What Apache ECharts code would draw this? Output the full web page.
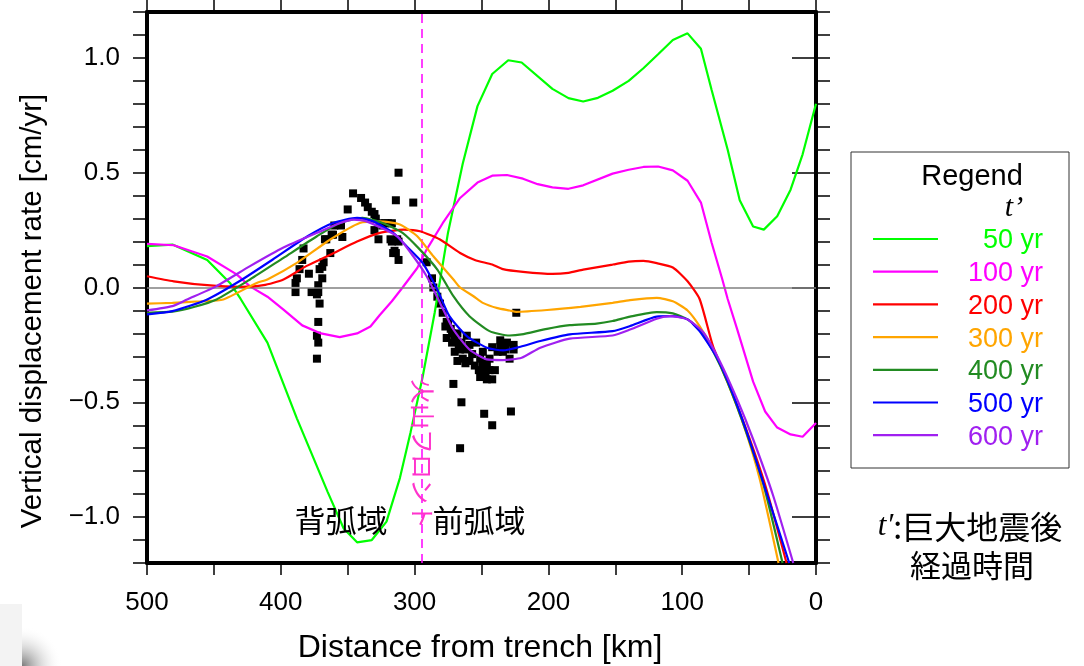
<!DOCTYPE html>
<html>
<head>
<meta charset="utf-8">
<script src="https://cdn.jsdelivr.net/npm/echarts@6/dist/echarts.min.js"></script>
<style>
  html, body { margin: 0; padding: 0; background: #fff; }
  #chart { width: 1084px; height: 666px; }
</style>
</head>
<body>
<div id="chart"></div>
<script>
// Vertical displacement rate [cm/yr] against distance from trench [km],
// one curve per elapsed time t' after the great earthquake.
const t50 = [[500,0.18],[481,0.187],[455,0.12],[438,0.02],[430,-0.05],[410,-0.24],[388,-0.57],[365,-0.89],[353,-1.05],[343,-1.11],[332,-1.10],[321,-1.02],[311,-0.83],[303,-0.63],[294,-0.39],[285,-0.11],[275,0.24],[264,0.54],[253,0.79],[242,0.93],[230,0.99],[220,0.98],[197,0.865],[185,0.825],[174,0.81],[163,0.826],[152,0.857],[140,0.90],[129,0.955],[118,1.016],[107,1.078],[96,1.107],[86,1.04],[78,0.86],[66,0.60],[57,0.38],[47,0.266],[39,0.252],[29,0.31],[19,0.426],[10,0.58],[0,0.80]];
const t100 = [[500,0.19],[480,0.184],[455,0.135],[433,0.057],[423,0.005],[410,-0.04],[398,-0.096],[384,-0.165],[370,-0.20],[356,-0.216],[343,-0.20],[333,-0.17],[326,-0.12],[317,-0.06],[309,0.0],[298,0.085],[291,0.165],[279,0.28],[266,0.39],[253,0.457],[242,0.487],[231,0.49],[219,0.474],[208,0.45],[197,0.436],[185,0.43],[174,0.445],[152,0.496],[140,0.513],[129,0.525],[118,0.527],[107,0.51],[96,0.465],[86,0.37],[78,0.195],[70,0.035],[66,-0.05],[59,-0.18],[47,-0.41],[38,-0.54],[29,-0.61],[19,-0.64],[10,-0.65],[0,-0.59]];
const t200 = [[500,0.049],[480,0.027],[455,0.01],[430,0.003],[413,0.01],[398,0.035],[381,0.093],[363,0.143],[343,0.2],[326,0.238],[308,0.252],[296,0.245],[281,0.209],[266,0.15],[255,0.12],[242,0.10],[234,0.08],[219,0.068],[197,0.059],[185,0.064],[174,0.078],[152,0.10],[140,0.113],[129,0.116],[119,0.106],[107,0.087],[96,0.027],[87,-0.05],[77,-0.255],[66,-0.41],[52,-0.62],[38,-0.86],[22,-1.2]];
const t300 = [[500,-0.07],[481,-0.067],[460,-0.06],[443,-0.052],[418,0.02],[410,0.035],[388,0.107],[363,0.209],[341,0.281],[326,0.288],[311,0.274],[298,0.223],[286,0.136],[271,0.035],[266,0.0],[256,-0.038],[249,-0.067],[238,-0.09],[229,-0.1],[224,-0.106],[201,-0.098],[176,-0.084],[152,-0.067],[139,-0.055],[119,-0.045],[107,-0.06],[96,-0.10],[87,-0.168],[77,-0.27],[67,-0.40],[54,-0.60],[42,-0.835],[28,-1.2]];
const t400 = [[500,-0.11],[481,-0.105],[465,-0.085],[448,-0.052],[423,0.035],[398,0.129],[373,0.223],[356,0.281],[339,0.303],[324,0.281],[309,0.238],[296,0.165],[283,0.078],[271,-0.038],[259,-0.125],[244,-0.19],[229,-0.209],[220,-0.204],[201,-0.18],[184,-0.164],[164,-0.157],[152,-0.146],[139,-0.127],[119,-0.107],[107,-0.113],[96,-0.139],[87,-0.183],[77,-0.277],[66,-0.414],[52,-0.632],[39,-0.864],[25,-1.2]];
const t500 = [[500,-0.117],[481,-0.103],[455,-0.052],[431,0.027],[406,0.122],[380,0.223],[361,0.281],[343,0.303],[331,0.288],[316,0.238],[306,0.18],[294,0.107],[283,-0.01],[274,-0.125],[261,-0.212],[246,-0.262],[234,-0.274],[219,-0.255],[206,-0.233],[184,-0.204],[152,-0.19],[139,-0.168],[119,-0.127],[107,-0.125],[96,-0.139],[87,-0.19],[74,-0.306],[64,-0.436],[52,-0.625],[37,-0.893],[20,-1.2]];
const t600 = [[500,-0.10],[481,-0.081],[470,-0.052],[448,0.006],[423,0.093],[398,0.174],[373,0.238],[356,0.28],[346,0.296],[336,0.288],[313,0.223],[301,0.136],[291,0.049],[281,-0.067],[271,-0.183],[259,-0.27],[246,-0.313],[234,-0.316],[220,-0.306],[206,-0.262],[184,-0.223],[152,-0.209],[139,-0.183],[119,-0.136],[109,-0.125],[96,-0.139],[84,-0.197],[72,-0.32],[59,-0.487],[47,-0.661],[32,-0.907],[17,-1.2]];

// Observed vertical rates (black squares)
const observed = [
  [312,0.50],[346,0.41],[340,0.39],[337,0.37],[335,0.35],[332,0.33],[330,0.32],[350,0.34],[314,0.38],[301,0.37],
  [329,0.30],[326,0.28],[322,0.28],[317,0.28],[320,0.28],[324,0.27],[360,0.27],[355,0.27],[362,0.23],[361,0.23],
  [354,0.22],[366,0.21],[327,0.21],[330,0.25],[317,0.20],[318,0.21],[312,0.20],[313,0.21],[367,0.21],[383,0.17],
  [363,0.15],[314,0.15],[316,0.15],[315,0.16],[312,0.12],[384,0.12],[368,0.11],[369,0.09],[386,0.08],[371,0.08],
  [379,0.06],[388,0.04],[369,0.04],[389,0.02],[372,0.01],[389,-0.02],[377,-0.02],[373,-0.03],[372,-0.02],[371,-0.07],
  [372,-0.15],[373,-0.21],[372,-0.24],[373,-0.31],
  [291,0.11],[287,0.04],[286,0.0],[283,-0.04],[281,-0.07],[279,-0.11],[276,-0.15],[275,-0.15],[277,-0.17],[273,-0.18],
  [276,-0.22],[272,-0.20],[272,-0.24],[268,-0.20],[270,-0.28],[270,-0.23],[266,-0.27],[265,-0.24],[267,-0.25],[261,-0.21],
  [268,-0.32],[264,-0.31],[262,-0.27],[262,-0.33],[259,-0.32],[259,-0.25],[257,-0.29],[254,-0.24],[255,-0.34],[252,-0.36],
  [251,-0.39],[251,-0.31],[249,-0.28],[249,-0.34],[246,-0.33],[247,-0.37],[246,-0.40],[244,-0.36],[244,-0.31],[242,-0.40],
  [242,-0.26],[240,-0.36],[238,-0.28],[236,-0.26],[236,-0.23],[234,-0.28],[232,-0.27],[231,-0.24],[229,-0.31],[226,-0.25],
  [226,-0.27],[224,-0.11],[271,-0.42],[265,-0.50],[248,-0.55],[242,-0.60],[228,-0.54],[266,-0.70]
];

const curveData = [t50, t100, t200, t300, t400, t500, t600];
const curveNames = ['50 yr', '100 yr', '200 yr', '300 yr', '400 yr', '500 yr', '600 yr'];
const curveColors = ['#00ff00', '#ff00ff', '#ff0000', '#ffa500', '#228b22', '#0000ff', '#a020f0'];
const curveSmooth = [false, false, 0.2, 0.2, 0.2, 0.2, 0.2];

const volcanicFrontKm = 295;
const yMajorTicks = [-1, -0.5, 0, 0.5, 1];

const latin = '"Liberation Sans", Arial, Helvetica, sans-serif';
const cjk = '"Noto Sans CJK JP", "Noto Sans CJK SC", sans-serif';

const chart = echarts.init(document.getElementById('chart'), null, { renderer: 'canvas' });

function yLabel(v) {
  const r = Math.round(v * 10);
  if (r % 5 !== 0) return '';
  return (r < 0 ? '\u2212' : '') + Math.abs(r / 10).toFixed(1);
}

const frame = { show: true, onZero: false, lineStyle: { color: '#000', width: 4 } };

const series = [];
series.push({
  type: 'scatter', name: 'obs', data: observed, symbol: 'rect', symbolSize: 8,
  itemStyle: { color: '#000', opacity: 1 }, z: 2, silent: true,
  markLine: {
    silent: true, symbol: 'none', animation: false,
    label: { show: false },
    data: [
      { yAxis: 0, lineStyle: { color: '#808080', width: 1.5, type: 'solid' } },
      { xAxis: volcanicFrontKm, lineStyle: { color: '#ff00ff', width: 1.5, type: [9, 6] } }
    ]
  }
});
curveData.forEach((d, i) => {
  series.push({
    type: 'line', name: curveNames[i], data: d, showSymbol: false, smooth: curveSmooth[i],
    lineStyle: { color: curveColors[i], width: 2.2 }, itemStyle: { color: curveColors[i] },
    z: 3 + i, silent: true, clip: true
  });
});

// Legend panel
const legendItems = [];
legendItems.push({ type: 'rect', shape: { x: 851, y: 152, width: 218, height: 316 },
  style: { fill: '#fff', stroke: '#333', lineWidth: 1 } });
legendItems.push({ type: 'text', x: 972, y: 177,
  style: { text: 'Regend', font: '29px ' + latin, fill: '#000', align: 'center', verticalAlign: 'middle' } });
legendItems.push({ type: 'text', x: 1014, y: 208,
  style: { text: 't\u2019', font: 'italic 30px "Liberation Serif", "DejaVu Serif", serif', fill: '#000', align: 'center', verticalAlign: 'middle' } });
curveNames.forEach((n, i) => {
  const y = 239 + i * 32.7;
  legendItems.push({ type: 'line', shape: { x1: 873, y1: y, x2: 938, y2: y },
    style: { stroke: curveColors[i], lineWidth: 2.2 } });
  legendItems.push({ type: 'text', x: 1043, y: y + 2,
    style: { text: n, font: '27px ' + latin, fill: curveColors[i], align: 'right', verticalAlign: 'middle' } });
});

const option = {
  backgroundColor: '#fff',
  animation: false,
  grid: { left: 147, right: 268, top: 12, bottom: 103, containLabel: false },
  xAxis: [
    {
      type: 'value', position: 'bottom', min: 0, max: 500, interval: 50, inverse: true,
      axisLine: frame,
      axisTick: { show: true, inside: false, length: 12, lineStyle: { color: '#000', width: 1.5 } },
      axisLabel: { show: true, margin: 27, fontSize: 26, fontFamily: latin, color: '#000',
        formatter: v => (Math.round(v) % 100 === 0 ? String(Math.round(v)) : '') },
      splitLine: { show: false }
    },
    {
      type: 'value', position: 'top', min: 0, max: 500, interval: 50, inverse: true,
      axisLine: frame,
      axisTick: { show: true, inside: false, length: 12, lineStyle: { color: '#000', width: 1.5 } },
      axisLabel: { show: false }, splitLine: { show: false }
    }
  ],
  yAxis: [
    {
      type: 'value', position: 'left', min: -1.2, max: 1.2, interval: 0.1,
      axisLine: frame,
      axisTick: { show: true, inside: false, length: 14, lineStyle: { color: '#000', width: 1.5 } },
      axisLabel: { show: true, margin: 27, fontSize: 26, fontFamily: latin, color: '#000', formatter: yLabel },
      splitLine: { show: false }
    },
    {
      type: 'value', position: 'left', min: -1.2, max: 1.2,
      axisLine: { show: false },
      axisTick: { show: true, inside: false, length: 24, customValues: yMajorTicks, lineStyle: { color: '#000', width: 1.5 } },
      axisLabel: { show: false }, splitLine: { show: false }
    },
    {
      type: 'value', position: 'right', min: -1.2, max: 1.2, interval: 0.1,
      axisLine: frame,
      axisTick: { show: true, inside: false, length: 14, lineStyle: { color: '#000', width: 1.5 } },
      axisLabel: { show: false }, splitLine: { show: false }
    }
  ],
  series: series,
  graphic: [
    { type: 'text', x: 33, y: 311, rotation: Math.PI / 2, z: 20,
      style: { text: 'Vertical displacement rate [cm/yr]', font: '29.5px ' + latin, fill: '#000', align: 'center', verticalAlign: 'middle' } },
    { type: 'text', x: 480, y: 648, z: 20,
      style: { text: 'Distance from trench [km]', font: '32px ' + latin, fill: '#000', align: 'center', verticalAlign: 'middle' } },
    { type: 'text', x: 341, y: 520, z: 20,
      style: { text: '背弧域', font: '31px ' + cjk, fill: '#000', align: 'center', verticalAlign: 'middle' } },
    { type: 'text', x: 479, y: 520, z: 20,
      style: { text: '前弧域', font: '31px ' + cjk, fill: '#000', align: 'center', verticalAlign: 'middle' } },
    { type: 'text', x: 422, y: 454, rotation: -Math.PI / 2, z: 20,
      style: { text: '火山フロント', font: '25px ' + cjk, fill: '#ff33cc', align: 'center', verticalAlign: 'middle' } },
    { type: 'group', z: 20, children: legendItems },
    { type: 'text', x: 970, y: 527, z: 20,
      style: {
        text: '{i|t\u2032}{n|:巨大地震後}', align: 'center', verticalAlign: 'middle',
        rich: {
          i: { font: 'italic 31px "Liberation Serif", "DejaVu Serif", serif', fill: '#000' },
          n: { font: '32px ' + cjk, fill: '#000' }
        }
      } },
    { type: 'text', x: 972, y: 565, z: 20,
      style: { text: '経過時間', font: '31px ' + cjk, fill: '#000', align: 'center', verticalAlign: 'middle' } },
    { type: 'rect', z: 1, shape: { x: 0, y: 604, width: 22, height: 62 },
      style: { fill: '#f3f3f3' } },
    { type: 'rect', z: 1, shape: { x: 22, y: 600, width: 40, height: 66 },
      style: { fill: new echarts.graphic.RadialGradient(0, 1, 1, [
        { offset: 0, color: '#7a7a7a' }, { offset: 1, color: 'rgba(255,255,255,0)' }
      ]) } }
  ]
};

chart.setOption(option);
</script>
</body>
</html>
